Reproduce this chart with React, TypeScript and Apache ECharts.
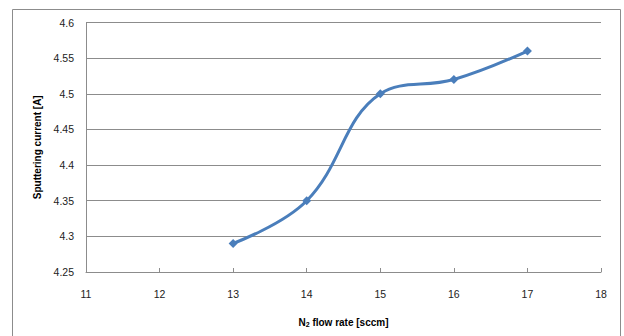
import React, { useEffect, useRef } from "react";
import * as echarts from "echarts";

const flowRates = [13, 14, 15, 16, 17];
const currents = [4.29, 4.35, 4.5, 4.52, 4.56];
const yTitle = "Sputtering current [A]";

export default function App() {
  const ref = useRef<HTMLDivElement>(null);
  useEffect(() => {
    const chart = echarts.init(ref.current!, null, { renderer: "svg" });
    const font = "'Liberation Sans', Arial, sans-serif";
    chart.setOption({
      animation: false,
      backgroundColor: "#ffffff",
      grid: { left: 86, right: 23, top: 22.5, bottom: 64 },
      graphic: [
        {
          type: "rect",
          shape: { x: 12.5, y: 9.5, width: 608, height: 340 },
          style: { fill: "none", stroke: "#8c8c8c", lineWidth: 1 },
          silent: true,
        },
      ],
      xAxis: {
        type: "value",
        min: 11,
        max: 18,
        interval: 1,
        name: "{a|N}{s|2}{a| flow rate [sccm]}",
        nameLocation: "middle",
        nameGap: 44,
        nameTextStyle: {
          rich: {
            a: { fontFamily: font, fontSize: 10, fontWeight: "bold", color: "#000" },
            s: { fontFamily: font, fontSize: 7, fontWeight: "bold", color: "#000", verticalAlign: "bottom", padding: [5, 0, 0, 0] },
          },
        },
        axisLine: { show: true, lineStyle: { color: "#8c8c8c", width: 1 } },
        axisTick: { show: true, inside: true, length: 4, lineStyle: { color: "#8c8c8c" } },
        axisLabel: { fontFamily: font, fontSize: 10.5, color: "#222", margin: 16 },
        splitLine: { show: false },
      },
      yAxis: {
        type: "value",
        min: 4.25,
        max: 4.6,
        interval: 0.05,
        name: yTitle,
        nameLocation: "middle",
        nameGap: 44,
        nameTextStyle: { fontFamily: font, fontSize: 10, fontWeight: "bold", color: "#000" },
        axisLine: { show: true, lineStyle: { color: "#8c8c8c", width: 1 } },
        axisTick: { show: false },
        axisLabel: {
          fontFamily: font,
          fontSize: 10.5,
          color: "#222",
          margin: 12,
          formatter: (v: number) => String(parseFloat(v.toFixed(2))),
        },
        splitLine: { show: true, lineStyle: { color: "#8c8c8c", width: 1 } },
      },
      series: [
        {
          type: "line",
          data: flowRates.map((x, i) => [x, currents[i]]),
          smooth: 0.4,
          symbol: "diamond",
          symbolSize: 9,
          lineStyle: { color: "#4a7ebb", width: 3 },
          itemStyle: { color: "#4a7ebb" },
        },
      ],
    });
    return () => chart.dispose();
  }, []);
  return (
    <div
      ref={ref}
      style={{ position: "fixed", left: 0, top: 0, width: 624, height: 336 }}
    />
  );
}
